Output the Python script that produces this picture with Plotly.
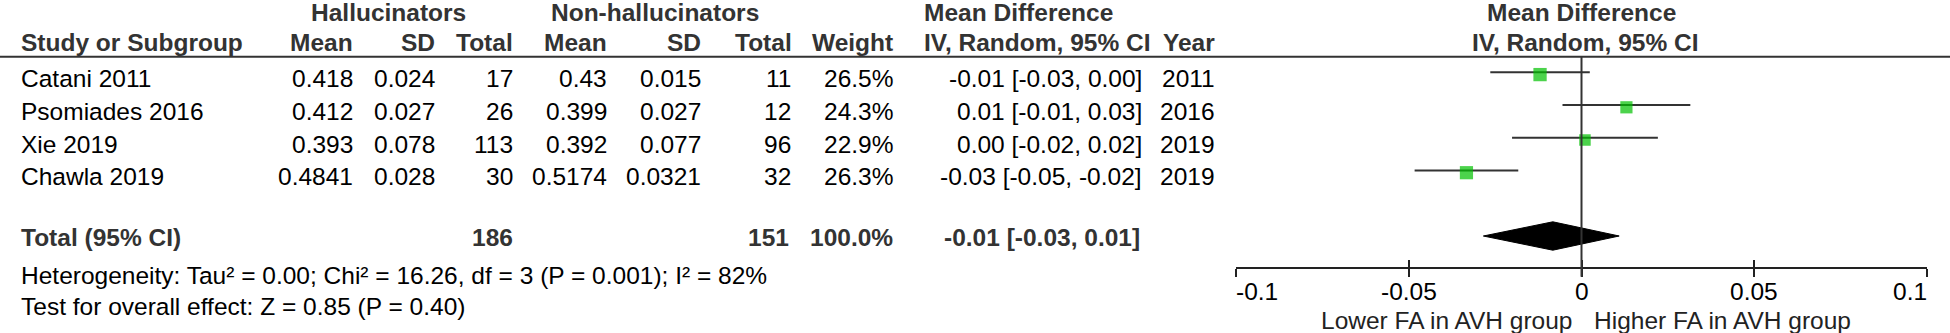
import plotly.graph_objects as go

# ---------------- data ----------------
studies = ["Catani 2011", "Psomiades 2016", "Xie 2019", "Chawla 2019"]
hall_mean = ["0.418", "0.412", "0.393", "0.4841"]
hall_sd = ["0.024", "0.027", "0.078", "0.028"]
hall_n = [17, 26, 113, 30]
non_mean = ["0.43", "0.399", "0.392", "0.5174"]
non_sd = ["0.015", "0.027", "0.077", "0.0321"]
non_n = [11, 12, 96, 32]
weights = [26.5, 24.3, 22.9, 26.3]
md = [-0.012, 0.013, 0.001, -0.0333]
ci_lo = [-0.0264, -0.0055, -0.0201, -0.0483]
ci_hi = [0.0024, 0.0315, 0.0221, -0.0183]
ci_text = ["-0.01 [-0.03, 0.00]", "0.01 [-0.01, 0.03]", "0.00 [-0.02, 0.02]", "-0.03 [-0.05, -0.02]"]
years = [2011, 2016, 2019, 2019]

total_hall_n = 186
total_non_n = 151
total_weight = "100.0%"
pooled_md = -0.0083
pooled_lo = -0.0284
pooled_hi = 0.0109
pooled_text = "-0.01 [-0.03, 0.01]"
heterogeneity = "Heterogeneity: Tau² = 0.00; Chi² = 16.26, df = 3 (P = 0.001); I² = 82%"
overall = "Test for overall effect: Z = 0.85 (P = 0.40)"
tick_vals = [-0.1, -0.05, 0, 0.05, 0.1]
tick_text = ["-0.1", "-0.05", "0", "0.05", "0.1"]
favours_left = "Lower FA in AVH group"
favours_right = "Higher FA in AVH group"

# ---------------- layout constants (pixels) ----------------
W, H = 1950, 333
FONT = "Liberation Sans, Arial, sans-serif"
FS = 24.5
HEAD_C = "#333333"
BODY_C = "#000000"
LINE_C = "#333333"
GREEN = "#00C000"

TEXT_Y0, STEP = 78.7, 32.7
LINE_Y0 = 72.3
SQ_OFF = 2.3
HEAD1_Y, HEAD2_Y = 12, 42.7
RULE_Y = 56.7
TOTAL_Y = 237.7
DIAM_Y, DIAM_H = 236, 14.2
HET_Y, TEST_Y = 275.7, 306.7
AXIS_Y = 267.7
TICKLAB_Y = 291
FAV_Y = 320

def px(x):
    return x / W

def text_y(i):
    return TEXT_Y0 + STEP * i

def line_y(i):
    return LINE_Y0 + STEP * i

annotations = []

def add(text, x, y, anchor="right", bold=False, color=BODY_C, xref="paper", xshift=0):
    annotations.append(dict(
        text=f"<b>{text}</b>" if bold else text,
        x=px(x) if xref == "paper" else x, y=y, xref=xref, yref="y",
        xanchor=anchor, yanchor="middle", showarrow=False,
        font=dict(family=FONT, size=FS, color=color),
        borderpad=0, borderwidth=0, xshift=xshift,
    ))

# column right edges
X_STUDY = 20.7
X_HM, X_HSD, X_HN = 353.3, 435, 513
X_NM, X_NSD, X_NN = 606.7, 701, 790.5
X_W = 892.7
X_CI = 1141.7
X_YEAR = 1215
X_MDHEAD = 923.5

# header row 1
add("Hallucinators", 388, HEAD1_Y, "center", True, HEAD_C)
add("Non-hallucinators", 654.7, HEAD1_Y, "center", True, HEAD_C)
add("Mean Difference", X_MDHEAD, HEAD1_Y, "left", True, HEAD_C)
add("Mean Difference", 1581, HEAD1_Y, "center", True, HEAD_C)
# header row 2
add("Study or Subgroup", X_STUDY, HEAD2_Y, "left", True, HEAD_C)
add("Mean", X_HM, HEAD2_Y, "right", True, HEAD_C)
add("SD", X_HSD, HEAD2_Y, "right", True, HEAD_C)
add("Total", X_HN, HEAD2_Y, "right", True, HEAD_C)
add("Mean", X_NM, HEAD2_Y, "right", True, HEAD_C)
add("SD", X_NSD, HEAD2_Y, "right", True, HEAD_C)
add("Total", X_NN + 1, HEAD2_Y, "right", True, HEAD_C)
add("Weight", X_W, HEAD2_Y, "right", True, HEAD_C)
add("IV, Random, 95% CI", X_MDHEAD, HEAD2_Y, "left", True, HEAD_C)
add("Year", X_YEAR, HEAD2_Y, "right", True, HEAD_C)
add("IV, Random, 95% CI", 1585, HEAD2_Y, "center", True, HEAD_C)

# study rows
for i, s in enumerate(studies):
    y = text_y(i)
    add(s, X_STUDY, y, "left")
    add(hall_mean[i], X_HM, y)
    add(hall_sd[i], X_HSD, y)
    add(str(hall_n[i]), X_HN, y)
    add(non_mean[i], X_NM, y)
    add(non_sd[i], X_NSD, y)
    add(str(non_n[i]), X_NN, y)
    add(f"{weights[i]:.1f}%", X_W, y)
    add(ci_text[i], X_CI, y)
    add(str(years[i]), X_YEAR, y)

# total row
add("Total (95% CI)", X_STUDY, TOTAL_Y, "left", True, HEAD_C)
add(str(total_hall_n), X_HN, TOTAL_Y, "right", True, HEAD_C)
add(str(total_non_n), X_NN - 2, TOTAL_Y, "right", True, HEAD_C)
add(total_weight, X_W, TOTAL_Y, "right", True, HEAD_C)
add(pooled_text, X_CI - 2, TOTAL_Y, "right", True, HEAD_C)

add(heterogeneity, X_STUDY, HET_Y, "left")
add(overall, X_STUDY, TEST_Y, "left")

# axis tick labels
for k, (v, t) in enumerate(zip(tick_vals, tick_text)):
    anc = "left" if k == 0 else ("right" if k == len(tick_vals) - 1 else "center")
    add(t, v, TICKLAB_Y, anc, xref="x")

add(favours_left, 0, FAV_Y, "right", xref="x", color="#222222", xshift=-9)
add(favours_right, 0, FAV_Y, "left", xref="x", color="#222222", xshift=12)

fig = go.Figure()

# CI lines
cx, cy = [], []
for i in range(len(studies)):
    cx += [ci_lo[i], ci_hi[i], None]
    cy += [line_y(i), line_y(i), None]
fig.add_trace(go.Scatter(x=cx, y=cy, mode="lines",
                         line=dict(color=LINE_C, width=2), hoverinfo="skip", showlegend=False))

# squares (side proportional to weight)
fig.add_trace(go.Scatter(
    x=md, y=[line_y(i) + SQ_OFF for i in range(len(studies))], mode="markers",
    marker=dict(symbol="square", color=GREEN, size=[13.3 * w / max(weights) for w in weights],
                line=dict(width=0)),
    showlegend=False, hoverinfo="skip"))

# pooled diamond
fig.add_trace(go.Scatter(
    x=[pooled_lo, pooled_md, pooled_hi, pooled_md, pooled_lo],
    y=[DIAM_Y, DIAM_Y - DIAM_H, DIAM_Y, DIAM_Y + DIAM_H, DIAM_Y],
    mode="lines", fill="toself", fillcolor="#000000",
    line=dict(color="#000000", width=1), xaxis="x2", yaxis="y",
    showlegend=False, hoverinfo="skip"))

shapes = [
    dict(type="line", xref="paper", yref="y", x0=0, x1=1, y0=RULE_Y, y1=RULE_Y,
         line=dict(color=LINE_C, width=2)),
    dict(type="line", xref="x", yref="y", x0=0, x1=0, y0=RULE_Y, y1=AXIS_Y + 9,
         line=dict(color=LINE_C, width=2)),
]

axis_common = dict(range=[-0.1, 0.1], tickvals=tick_vals, showticklabels=False,
                   showgrid=False, zeroline=False, ticklen=8, tickwidth=2,
                   tickcolor="#222222", fixedrange=True)
pos = (H - AXIS_Y) / H
fig.update_layout(
    width=W, height=H, margin=dict(l=0, r=0, t=0, b=0),
    paper_bgcolor="white", plot_bgcolor="white",
    font=dict(family=FONT, size=FS, color=BODY_C),
    xaxis=dict(domain=[px(1236), px(1927)], anchor="free", position=pos,
               showline=True, linecolor="#222222", linewidth=2, ticks="outside", **axis_common),
    xaxis2=dict(overlaying="x", matches="x", anchor="free", position=pos,
                showline=False, ticks="inside", **axis_common),
    yaxis=dict(domain=[0, 1], range=[H, 0], visible=False, fixedrange=True),
    shapes=shapes, annotations=annotations,
)

fig.write_html(
    "out.html",
    config={"displayModeBar": False},
    post_script="document.body.style.margin='0';document.body.style.overflow='hidden';",
)
